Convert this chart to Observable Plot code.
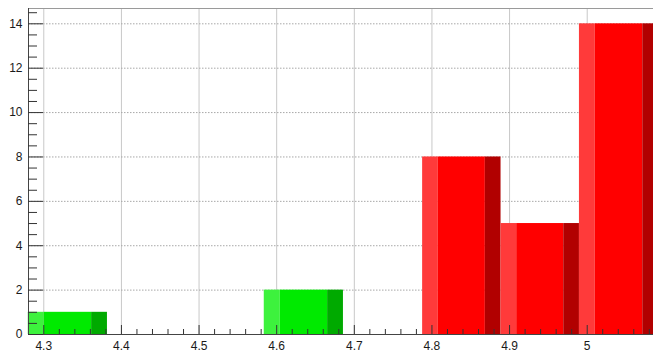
<!DOCTYPE html>
<html>
<head>
<meta charset="utf-8">
<script src="https://cdn.jsdelivr.net/npm/d3@7"></script>
<script src="https://cdn.jsdelivr.net/npm/@observablehq/plot@0.6"></script>
<style>
  body { margin: 0; background: #fff; }
  #chart svg { display: block; }
</style>
</head>
<body>
<div id="chart"></div>
<script>
// Histogram bins (lower / upper edge) and their counts
const binLow  = [4.280, 4.584, 4.788, 4.889, 4.990];
const binHigh = [4.382, 4.686, 4.889, 4.990, 5.092];
const counts  = [1, 2, 8, 5, 14];
const series  = ["low", "low", "high", "high", "high"];

// Axis ranges and ticks
const xRange = [4.2803, 5.0854];
const yRange = [0, 14.69];
const xTicks = [4.3, 4.4, 4.5, 4.6, 4.7, 4.8, 4.9, 5.0];
const yTicks = [0, 2, 4, 6, 8, 10, 12, 14];

// Bar shading: light left strip, body, dark right strip
const shades = {
  low:  ["#3df23d", "#00ea00", "#00aa00"],
  high: ["#ff3a3a", "#ff0000", "#b10000"]
};
const strip = 0.2;

const segments = [];
binLow.forEach((lo, i) => {
  const hi = binHigh[i], w = hi - lo;
  const cuts = [lo, lo + strip * w, hi - strip * w, hi];
  for (let k = 0; k < 3; k++) {
    segments.push({x1: cuts[k], x2: cuts[k + 1], count: counts[i], fill: shades[series[i]][k]});
  }
});

const xMinor = d3.range(Math.ceil(xRange[0] / 0.02), Math.floor(xRange[1] / 0.02) + 1)
  .map(k => +(k * 0.02).toFixed(2))
  .filter(v => !xTicks.some(t => Math.abs(t - v) < 1e-6));
const yMinor = d3.range(1, Math.floor(yRange[1] / 0.5) + 1)
  .map(k => k * 0.5)
  .filter(v => v % 2 !== 0);

const W = 653, H = 352, mT = 8, mB = 18, mL = 28, mR = 0;
const plotH = H - mT - mB, plotW = W - mL - mR;

const chart = Plot.plot({
  width: W, height: H,
  marginTop: mT, marginBottom: mB, marginLeft: mL, marginRight: mR,
  style: {fontFamily: "'Liberation Sans', Arial, sans-serif", fontSize: "12px", color: "#1a1a1a", background: "#fff"},
  x: {domain: xRange},
  y: {domain: yRange},
  color: {type: "identity"},
  marks: [
    // grid
    Plot.ruleX(xTicks, {stroke: "#c8c8c8", strokeWidth: 1}),
    Plot.ruleY(yTicks.filter(v => v > 0), {stroke: "#a8a8a8", strokeWidth: 1, strokeDasharray: "1.5,1.5"}),
    // bars
    Plot.rectY(segments, {x1: "x1", x2: "x2", y1: 0, y2: "count", fill: "fill"}),
    // frame top and axis lines
    Plot.frame({anchor: "top", stroke: "#9a9a9a"}),
    Plot.ruleY([yRange[0]], {stroke: "#444"}),
    Plot.ruleX([xRange[0]], {stroke: "#444"}),
    // inward ticks
    Plot.tickX(xTicks, {x: d => d, insetTop: plotH - 9, stroke: "#333"}),
    Plot.tickX(xMinor, {x: d => d, insetTop: plotH - 5, stroke: "#333"}),
    Plot.tickY(yTicks, {y: d => d, insetRight: plotW - 15, stroke: "#333"}),
    Plot.tickY(yMinor, {y: d => d, insetRight: plotW - 9, stroke: "#333"}),
    // labels
    Plot.axisX(xTicks, {tickSize: 0, tickPadding: 7, tickFormat: d3.format("~g"), label: null}),
    Plot.axisY(yTicks, {tickSize: 0, tickPadding: 6, tickFormat: d3.format("d"), label: null})
  ]
});

document.getElementById("chart").appendChild(chart);
</script>
</body>
</html>
